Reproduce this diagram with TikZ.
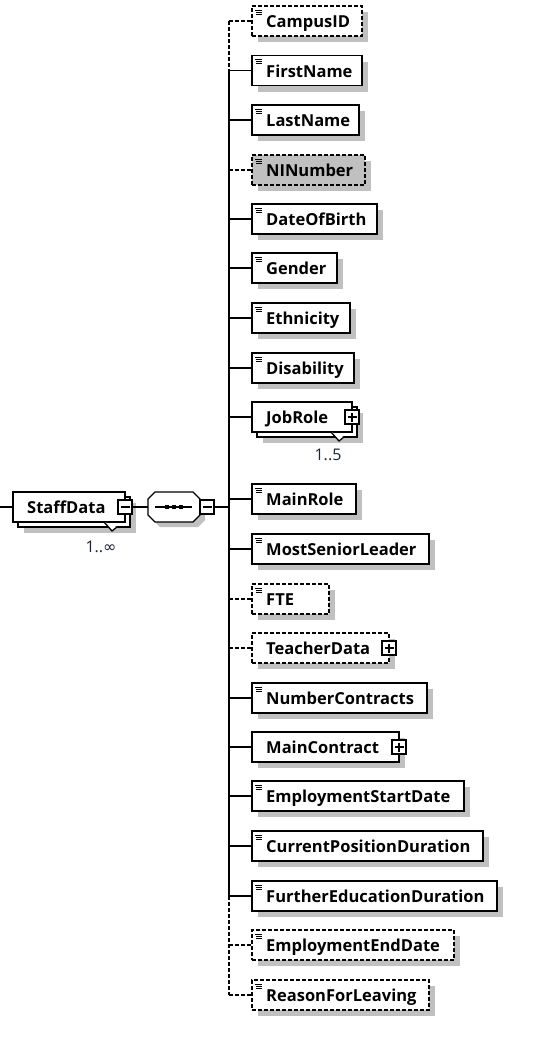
\documentclass[tikz,border=0pt]{standalone}
\usepackage{fontspec}
\setmainfont{Open Sans}
\newfontfamily\symfont{DejaVu Sans}
\usetikzlibrary{calc,shadows}
\definecolor{shgray}{HTML}{C0C0C0}
\definecolor{nigray}{HTML}{C0C0C0}
\definecolor{cardcol}{HTML}{1C2238}
\tikzset{
  plainbox/.style={draw, fill=white, line width=1.3pt, minimum height=30pt, inner sep=0pt, outer sep=0pt, anchor=west},
  elbox/.style={plainbox, drop shadow={shadow xshift=6pt, shadow yshift=-6pt, opacity=1, fill=shgray}},
  optbox/.style={dash pattern=on 4pt off 2pt},
  lbl/.style={font=\fontsize{16.5}{19}\selectfont\bfseries, inner sep=0pt, anchor=base west},
  conn/.style={line width=1.3pt},
  optconn/.style={line width=1.3pt, dash pattern=on 4pt off 2pt},
  card/.style={font=\fontsize{16}{19}\selectfont, text=cardcol, inner sep=0pt, anchor=base},
  pmbox/.style={draw, fill=white, line width=1.2pt, minimum size=14pt, inner sep=0pt, outer sep=0pt},
  icon/.style={line width=1pt},
}
% name, cy, right, options, text
\newcommand\xel[5]{%
  \node[elbox, minimum width={#3-252}, #4] (#1) at (252,#2) {};
  \node[lbl] (#1-t) at ($(#1.west)+(14,6.5)$) {#5};
}
\newcommand\xicon[1]{%
  \draw[icon] ($(#1.north west)+(3,4)$) -- ++(7,0)
              ($(#1.north west)+(4,6)$) -- ++(6,0)
              ($(#1.north west)+(4,8)$) -- ++(6,0);
}
\newcommand\xplus[1]{%
  \node[pmbox] (#1-pm) at (#1.east) {};
  \draw[line width=1.2pt] ($(#1-pm.center)+(-4.5,0)$) -- ($(#1-pm.center)+(4.5,0)$)
                        ($(#1-pm.center)+(0,-4.5)$) -- ($(#1-pm.center)+(0,4.5)$);
}
\newcommand\xminus[1]{%
  \draw[line width=1.2pt] ($(#1.center)+(-4.5,0)$) -- ($(#1.center)+(4.5,0)$);
}
\begin{document}
\begin{tikzpicture}[x=1pt,y=-1pt]
\useasboundingbox (0,0) rectangle (544,1042);
\fill[white] (0,0) rectangle (544,1042);

% ---------- StaffData (stacked) ----------
\node[elbox, minimum width=112] (staff-back) at (18,512) {};
\node[plainbox, minimum width=112] (staff) at (13,507) {};
\filldraw[fill=white, line width=1.3pt] ($(staff.south east)+(-21,0)$) -- ($(staff.south east)+(-13,9)$) -- ($(staff.south east)+(-8,5)$);
\node[lbl] (staff-t) at ($(staff.west)+(14,6.5)$) {StaffData};
\node[pmbox] (staff-pm) at (staff.east) {};
\xminus{staff-pm}
\node[card] (staff-card) at ($(staff.south east)+(-24,30)$) {1..{\symfont ∞}};

% ---------- sequence compositor ----------
\node[minimum width=52pt, minimum height=30pt, inner sep=0pt, outer sep=0pt] (seq) at (174,507) {};
\def\octpath{($(seq.north west)+(7,0)$) -- ($(seq.north east)+(-7,0)$) -- ($(seq.north east)+(0,7)$) -- ($(seq.south east)+(0,-7)$) -- ($(seq.south east)+(-7,0)$) -- ($(seq.south west)+(7,0)$) -- ($(seq.south west)+(0,-7)$) -- ($(seq.north west)+(0,7)$) -- cycle}
\fill[shgray, transform canvas={shift={(5pt,-5pt)}}] \octpath;
\filldraw[fill=white, line width=1.3pt] \octpath;
\draw[line width=1.3pt] ($(seq.west)+(7,0)$) -- ($(seq.east)+(-8,0)$);
\fill ($(seq.center)+(-9,-2)$) rectangle ++(4,4);
\fill ($(seq.center)+(-2,-2)$) rectangle ++(4,4);
\fill ($(seq.center)+(5,-2)$) rectangle ++(4,4);
\node[pmbox, anchor=west] (seq-pm) at (seq.east) {};
\xminus{seq-pm}

% ---------- children ----------
\xel{campus}{21}{362}{optbox}{CampusID}\xicon{campus}
\xel{first}{70.5}{362}{}{FirstName}\xicon{first}
\xel{last}{120}{359}{}{LastName}\xicon{last}
\xel{ni}{170}{365}{optbox, fill=nigray}{NINumber}\xicon{ni}
\xel{dob}{219}{377}{}{DateOfBirth}\xicon{dob}
\xel{gender}{268}{337}{}{Gender}\xicon{gender}
\xel{ethn}{318}{350}{}{Ethnicity}\xicon{ethn}
\xel{disab}{368}{354}{}{Disability}\xicon{disab}

% JobRole (stacked)
\node[elbox, minimum width=100] (job-back) at (257,422) {};
\node[plainbox, minimum width=100] (job) at (252,417) {};
\filldraw[fill=white, line width=1.3pt] ($(job.south east)+(-21,0)$) -- ($(job.south east)+(-13,9)$) -- ($(job.south east)+(-8,5)$);
\node[lbl] (job-t) at ($(job.west)+(14,6.5)$) {JobRole};
\xplus{job}
\node[card] (job-card) at ($(job.south east)+(-24,28)$) {1..5};

\xel{mainrole}{499}{356}{}{MainRole}\xicon{mainrole}
\xel{msl}{549}{429}{}{MostSeniorLeader}\xicon{msl}
\xel{fte}{599}{329}{optbox}{FTE}\xicon{fte}
\xel{teacher}{648}{389}{optbox}{TeacherData}\xplus{teacher}
\xel{numcon}{698}{427}{}{NumberContracts}\xicon{numcon}
\xel{maincon}{747}{399}{}{MainContract}\xplus{maincon}
\xel{esd}{796}{464}{}{EmploymentStartDate}\xicon{esd}
\xel{cpd}{846}{483}{}{CurrentPositionDuration}\xicon{cpd}
\xel{fed}{896}{497}{}{FurtherEducationDuration}\xicon{fed}
\xel{eed}{945}{454}{optbox}{EmploymentEndDate}\xicon{eed}
\xel{rfl}{995}{429}{optbox}{ReasonForLeaving}\xicon{rfl}

% ---------- bus coordinates ----------
\coordinate (b1) at (229,21);
\coordinate (b2) at (229,70.5);
\coordinate (b3) at (229,120);
\coordinate (b4) at (229,170);
\coordinate (b5) at (229,219);
\coordinate (b6) at (229,268);
\coordinate (b7) at (229,318);
\coordinate (b8) at (229,368);
\coordinate (b9) at (229,417);
\coordinate (b10) at (229,499);
\coordinate (b11) at (229,549);
\coordinate (b12) at (229,599);
\coordinate (b13) at (229,648);
\coordinate (b14) at (229,698);
\coordinate (b15) at (229,747);
\coordinate (b16) at (229,796);
\coordinate (b17) at (229,846);
\coordinate (b18) at (229,896);
\coordinate (b19) at (229,945);
\coordinate (b20) at (229,995);
\coordinate (bseq) at (229,507);
\coordinate (in) at (0,507);

% ---------- connectors ----------
\draw[conn] (in) -- (staff.west);
\draw[conn] (staff-pm.east) -- (seq.west);
\draw[conn] (seq-pm.east) -- (bseq);

\draw[optconn] (b1) -- (b2);
\draw[conn] (b2) -- (b18);
\draw[optconn] (b18) -- (b20);

\draw[optconn] (b1) -- (campus.west);
\draw[conn] (b2) -- (first.west);
\draw[conn] (b3) -- (last.west);
\draw[optconn] (b4) -- (ni.west);
\draw[conn] (b5) -- (dob.west);
\draw[conn] (b6) -- (gender.west);
\draw[conn] (b7) -- (ethn.west);
\draw[conn] (b8) -- (disab.west);
\draw[conn] (b9) -- (job.west);
\draw[conn] (b10) -- (mainrole.west);
\draw[conn] (b11) -- (msl.west);
\draw[optconn] (b12) -- (fte.west);
\draw[optconn] (b13) -- (teacher.west);
\draw[conn] (b14) -- (numcon.west);
\draw[conn] (b15) -- (maincon.west);
\draw[conn] (b16) -- (esd.west);
\draw[conn] (b17) -- (cpd.west);
\draw[conn] (b18) -- (fed.west);
\draw[optconn] (b19) -- (eed.west);
\draw[optconn] (b20) -- (rfl.west);
\end{tikzpicture}
\end{document}
